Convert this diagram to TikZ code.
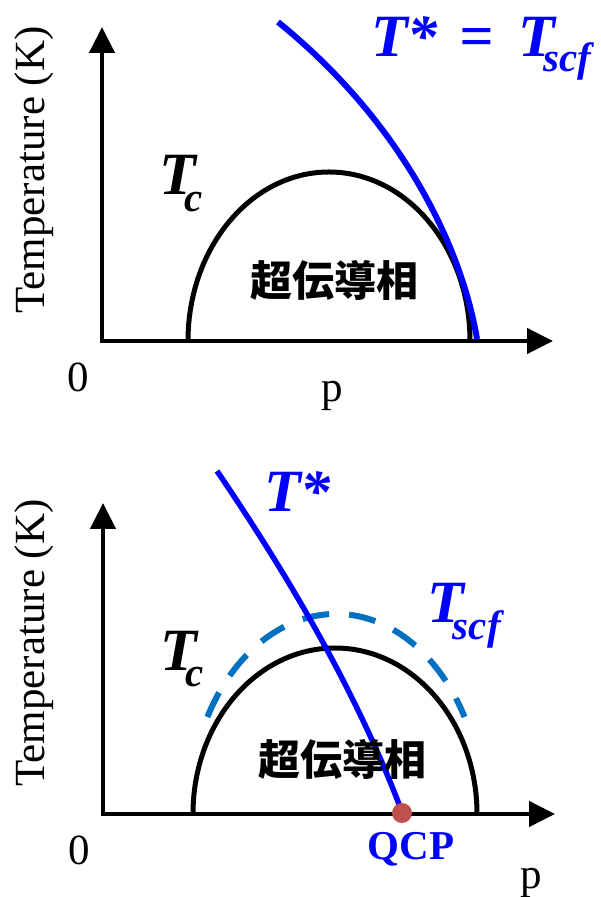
\documentclass[tikz,border=0pt]{standalone}
\usepackage{fontspec}
\setmainfont{Liberation Serif}
\newfontfamily\cjk{Noto Sans CJK JP}
\usetikzlibrary{arrows.meta}
\definecolor{dashblue}{RGB}{0,112,192}
\definecolor{qcpred}{RGB}{192,80,77}
\newcommand{\subf}{\fontsize{41}{41}\selectfont}
\begin{document}
\begin{tikzpicture}[x=1pt,y=1pt,
  axis/.style={line width=4.6pt, line join=miter,
    {Triangle[length=26pt,width=25pt]}-{Triangle[length=26pt,width=25pt]}},
  tcline/.style={line width=5pt, black},
  tstar/.style={line width=6pt, blue},
  scfline/.style={line width=6pt, dashblue, dash pattern=on 27pt off 20pt},
  biglbl/.style={inner sep=0pt, font=\fontsize{60}{60}\selectfont\bfseries\itshape},
  txt/.style={inner sep=0pt, font=\fontsize{43}{43}\selectfont},
  cjklbl/.style={inner sep=0pt, font=\fontsize{42}{42}\selectfont\cjk\bfseries, anchor=base},
  qcplbl/.style={inner sep=0pt, font=\fontsize{41}{41}\selectfont\bfseries, text=blue, anchor=base}
]
\useasboundingbox (0,0) rectangle (601,897);
% ---------- top panel ----------
\coordinate (O1) at (102,556);
\coordinate (Y1) at (102,870);
\coordinate (X1) at (553,556);
\draw[axis] (Y1) -- (O1) -- (X1);
\draw[tcline] (188,556) arc[start angle=180, end angle=0, x radius=141, y radius=169];
\draw[tstar] (278,875) .. controls (405,772) and (462,647) .. (477,558);
\node[biglbl, text=blue, anchor=base west] (eq1) at (371,840) {T*\kern22pt=\kern24pt T\kern-11pt\raisebox{-15pt}{\subf scf}};
\node[biglbl, anchor=base west] (tc1) at (159,702) {T\kern-11pt\raisebox{-17pt}{\subf c}};
\node[cjklbl] (sc1) at (334,600) {超伝導相};
\node[txt, anchor=base] (zero1) at (78,505) {0};
\node[txt, anchor=base] (p1) at (332,495) {p};
\node[txt, rotate=90, anchor=base] (temp1) at (44,727) {Temperature (K)};
% ---------- bottom panel ----------
\coordinate (O2) at (103,83);
\coordinate (Y2) at (103,394);
\coordinate (X2) at (555,83);
\draw[axis] (Y2) -- (O2) -- (X2);
\draw[tcline] (193,83) arc[start angle=180, end angle=0, x radius=142, y radius=166];
\draw[scfline] (207.4,180) arc[start angle=151, end angle=29, x radius=147, y radius=200];
\draw[tstar, line width=5.5pt] (217,426) .. controls (294.5,312) and (359,199) .. (402,85);
\node[circle, fill=qcpred, minimum size=20pt, inner sep=0pt] (qcp) at (402,84) {};
\node[qcplbl] (qcptext) at (411,37) {QCP};
\node[biglbl, text=blue, anchor=base west] (ts2) at (264,385) {T*};
\node[biglbl, text=blue, anchor=base west] (tscf2) at (427,274) {T\kern-11pt\raisebox{-17pt}{\subf scf}};
\node[biglbl, anchor=base west] (tc2) at (160,226) {T\kern-11pt\raisebox{-16pt}{\subf c}};
\node[cjklbl] (sc2) at (342,121) {超伝導相};
\node[txt, anchor=base] (zero2) at (79,32) {0};
\node[txt, anchor=base] (p2) at (531,9) {p};
\node[txt, rotate=90, anchor=base] (temp2) at (44,254) {Temperature (K)};
\end{tikzpicture}
\end{document}
